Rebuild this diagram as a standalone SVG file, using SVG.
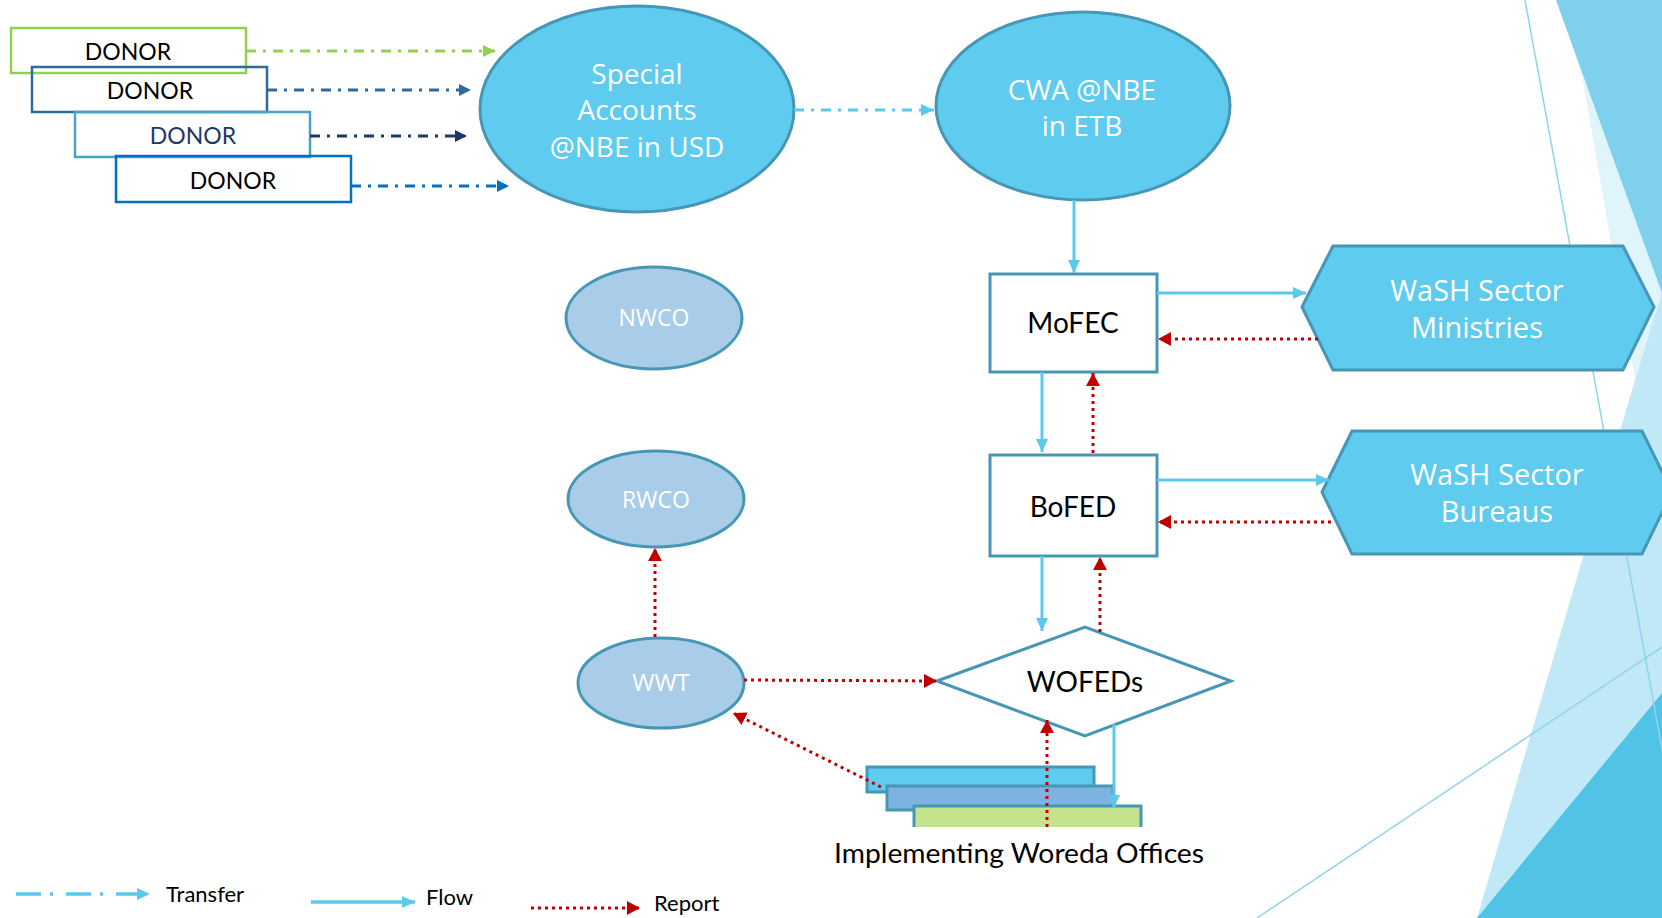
<svg xmlns="http://www.w3.org/2000/svg" width="1662" height="918" viewBox="0 0 1662 918">
<defs>
<style>
.bigNode{fill:#5ECBEF;stroke:#4697B5;stroke-width:3}
.smallNode{fill:#A9CDE8;stroke:#4697B5;stroke-width:3}
.box{fill:#FFFFFF;stroke:#4697B5;stroke-width:3}
.donor{fill:none;stroke-width:2.5}
.wt{font-family:"Open Sans","DejaVu Sans",sans-serif;fill:#FFFFFF;text-anchor:middle}
.bt{font-family:Lato,"Liberation Sans",sans-serif;fill:#000000;text-anchor:middle}
.lt{font-family:Lato,"Liberation Sans",sans-serif;fill:#000000}
.flow{fill:none;stroke:#5BC8EE;stroke-width:3;marker-end:url(#flowHead)}
.report{fill:none;stroke:#C00000;stroke-width:3;stroke-dasharray:3 4;marker-end:url(#reportHead)}
.transfer{fill:none;stroke-width:3;stroke-dasharray:10 7 3 7}
.deco{fill:none;stroke:#8FD4EC;stroke-width:1.5}
</style>
<marker id="flowHead" markerUnits="userSpaceOnUse" markerWidth="14" markerHeight="12" refX="13" refY="6" orient="auto"><path d="M0,0 L13,6 L0,12 z" fill="#5BC8EE"/></marker>
<marker id="reportHead" markerUnits="userSpaceOnUse" markerWidth="14" markerHeight="14" refX="13" refY="7" orient="auto"><path d="M0,0 L13,7 L0,14 z" fill="#C00000"/></marker>
<marker id="tGreen" markerUnits="userSpaceOnUse" markerWidth="12" markerHeight="12" refX="12" refY="6" orient="auto"><path d="M0,0 L12,6 L0,12 z" fill="#92D050"/></marker>
<marker id="tSteel" markerUnits="userSpaceOnUse" markerWidth="12" markerHeight="12" refX="12" refY="6" orient="auto"><path d="M0,0 L12,6 L0,12 z" fill="#2E6A9B"/></marker>
<marker id="tNavy" markerUnits="userSpaceOnUse" markerWidth="12" markerHeight="12" refX="12" refY="6" orient="auto"><path d="M0,0 L12,6 L0,12 z" fill="#1F3864"/></marker>
<marker id="tBlue" markerUnits="userSpaceOnUse" markerWidth="12" markerHeight="12" refX="12" refY="6" orient="auto"><path d="M0,0 L12,6 L0,12 z" fill="#0070C0"/></marker>
<marker id="tLight" markerUnits="userSpaceOnUse" markerWidth="13" markerHeight="12" refX="13" refY="6" orient="auto"><path d="M0,0 L13,6 L0,12 z" fill="#5BC8EE"/></marker>
</defs>

<rect x="0" y="0" width="1662" height="918" fill="#FFFFFF"/>

<g id="background-decoration">
<polygon points="1662,288 1477,918 1662,918" fill="#C0E8F6"/>
<polygon points="1556,0 1662,0 1662,296" fill="#7ED0EC"/>
<polygon points="1581,70 1662,293 1635,379" fill="#E0F4FB"/>
<polygon points="1477,918 1662,693 1662,918" fill="#50C3E6"/>
<line class="deco" x1="1525" y1="0" x2="1693" y2="918"/>
<line class="deco" x1="1257" y1="918" x2="1662" y2="647"/>
</g>

<g id="donor1"><rect class="donor" x="11" y="28" width="235" height="45" stroke="#92D050"/><text class="bt" x="128" y="60" font-size="23">DONOR</text></g>
<g id="donor2"><rect class="donor" x="32" y="67" width="235" height="45" stroke="#2E6A9B"/><text class="bt" x="150" y="99" font-size="23">DONOR</text></g>
<g id="donor3"><rect class="donor" x="75" y="112" width="235" height="45" stroke="#4BA3C3"/><text class="bt" x="193" y="144" font-size="23" style="fill:#1F3864">DONOR</text></g>
<g id="donor4"><rect class="donor" x="116" y="156" width="235" height="46" stroke="#0070C0"/><text class="bt" x="233" y="189" font-size="23">DONOR</text></g>

<g id="special-accounts"><ellipse class="bigNode" cx="637" cy="109" rx="157" ry="103"/>
<text class="wt" font-size="28"><tspan x="637" y="84">Special</tspan><tspan x="637" y="120">Accounts</tspan><tspan x="637" y="157">@NBE in USD</tspan></text></g>

<g id="cwa"><ellipse class="bigNode" cx="1083" cy="106" rx="147" ry="94"/>
<text class="wt" font-size="28"><tspan x="1082" y="100">CWA @NBE</tspan><tspan x="1082" y="136">in ETB</tspan></text></g>

<g id="nwco"><ellipse class="smallNode" cx="654" cy="318" rx="88" ry="51"/><text class="wt" x="654" y="326" font-size="23">NWCO</text></g>
<g id="rwco"><ellipse class="smallNode" cx="656" cy="499" rx="88" ry="48"/><text class="wt" x="656" y="508" font-size="23">RWCO</text></g>
<g id="wwt"><ellipse class="smallNode" cx="661" cy="683" rx="83" ry="45"/><text class="wt" x="661" y="691" font-size="24">WWT</text></g>

<g id="mofec"><rect class="box" x="990" y="274" width="167" height="98"/><text class="bt" x="1073" y="333" font-size="28">MoFEC</text></g>
<g id="bofed"><rect class="box" x="990" y="455" width="167" height="101"/><text class="bt" x="1073" y="517" font-size="28">BoFED</text></g>

<g id="wash-ministries"><polygon class="bigNode" points="1302,307 1333,246 1623,246 1654,307 1623,370 1333,370"/>
<text class="wt" font-size="29"><tspan x="1477" y="301">WaSH Sector</tspan><tspan x="1477" y="338">Ministries</tspan></text></g>
<g id="wash-bureaus"><polygon class="bigNode" points="1322,492 1352,431 1642,431 1672,492 1642,554 1352,554"/>
<text class="wt" font-size="29"><tspan x="1497" y="485">WaSH Sector</tspan><tspan x="1497" y="522">Bureaus</tspan></text></g>

<g id="wofeds"><polygon class="box" points="937,681 1085,627 1231,681 1085,736"/><text class="bt" x="1085" y="692" font-size="28">WOFEDs</text></g>

<g id="implementing-woreda-offices">
<rect x="867" y="767" width="227" height="25" fill="#5ECBEF" stroke="#4697B5" stroke-width="3"/>
<rect x="887" y="786" width="226" height="24" fill="#7DB3E0" stroke="#4697B5" stroke-width="3"/>
<rect x="914" y="806" width="227" height="21" fill="#C3E38F"/>
<path d="M914,827 V806 H1141 V827" fill="none" stroke="#4697B5" stroke-width="3"/>
<text class="bt" x="1019" y="863" font-size="26" textLength="370" lengthAdjust="spacingAndGlyphs">Implementing Woreda Offices</text>
</g>

<g id="connectors">
<line class="transfer" x1="246" y1="51" x2="495" y2="51" stroke="#92D050" marker-end="url(#tGreen)"/>
<line class="transfer" x1="267" y1="90" x2="471" y2="90" stroke="#2E6A9B" marker-end="url(#tSteel)"/>
<line class="transfer" x1="310" y1="136" x2="467" y2="136" stroke="#1F3864" marker-end="url(#tNavy)"/>
<line class="transfer" x1="351" y1="186" x2="509" y2="186" stroke="#0070C0" marker-end="url(#tBlue)"/>
<line class="transfer" x1="794" y1="110" x2="934" y2="110" stroke="#5BC8EE" marker-end="url(#tLight)"/>

<line class="flow" x1="1074" y1="200" x2="1074" y2="273"/>
<line class="flow" x1="1042" y1="372" x2="1042" y2="452"/>
<line class="flow" x1="1157" y1="293" x2="1306" y2="293"/>
<line class="flow" x1="1157" y1="480" x2="1329" y2="480"/>
<line class="flow" x1="1042" y1="556" x2="1042" y2="631"/>
<line class="flow" x1="1114" y1="724" x2="1114" y2="808"/>

<line class="report" x1="1318" y1="339" x2="1158" y2="339"/>
<line class="report" x1="1331" y1="522" x2="1158" y2="522"/>
<line class="report" x1="1093" y1="453" x2="1093" y2="373"/>
<line class="report" x1="1100" y1="632" x2="1100" y2="557"/>
<line class="report" x1="744" y1="680" x2="937" y2="681"/>
<line class="report" x1="655" y1="637" x2="655" y2="548"/>
<line class="report" x1="881" y1="787" x2="733" y2="713"/>
<line class="report" x1="1047" y1="827" x2="1047" y2="720"/>
</g>

<g id="legend">
<line x1="16" y1="894" x2="150" y2="894" stroke="#5BC8EE" stroke-width="3.5" stroke-dasharray="25 9 3 13" marker-end="url(#tLight)"/>
<text class="lt" x="166" y="902" font-size="22">Transfer</text>
<line class="flow" x1="311" y1="902" x2="415" y2="902" style="stroke-width:3.5"/>
<text class="lt" x="426" y="905" font-size="22">Flow</text>
<line class="report" x1="531" y1="908" x2="640" y2="908"/>
<text class="lt" x="654" y="911" font-size="22">Report</text>
</g>
</svg>
